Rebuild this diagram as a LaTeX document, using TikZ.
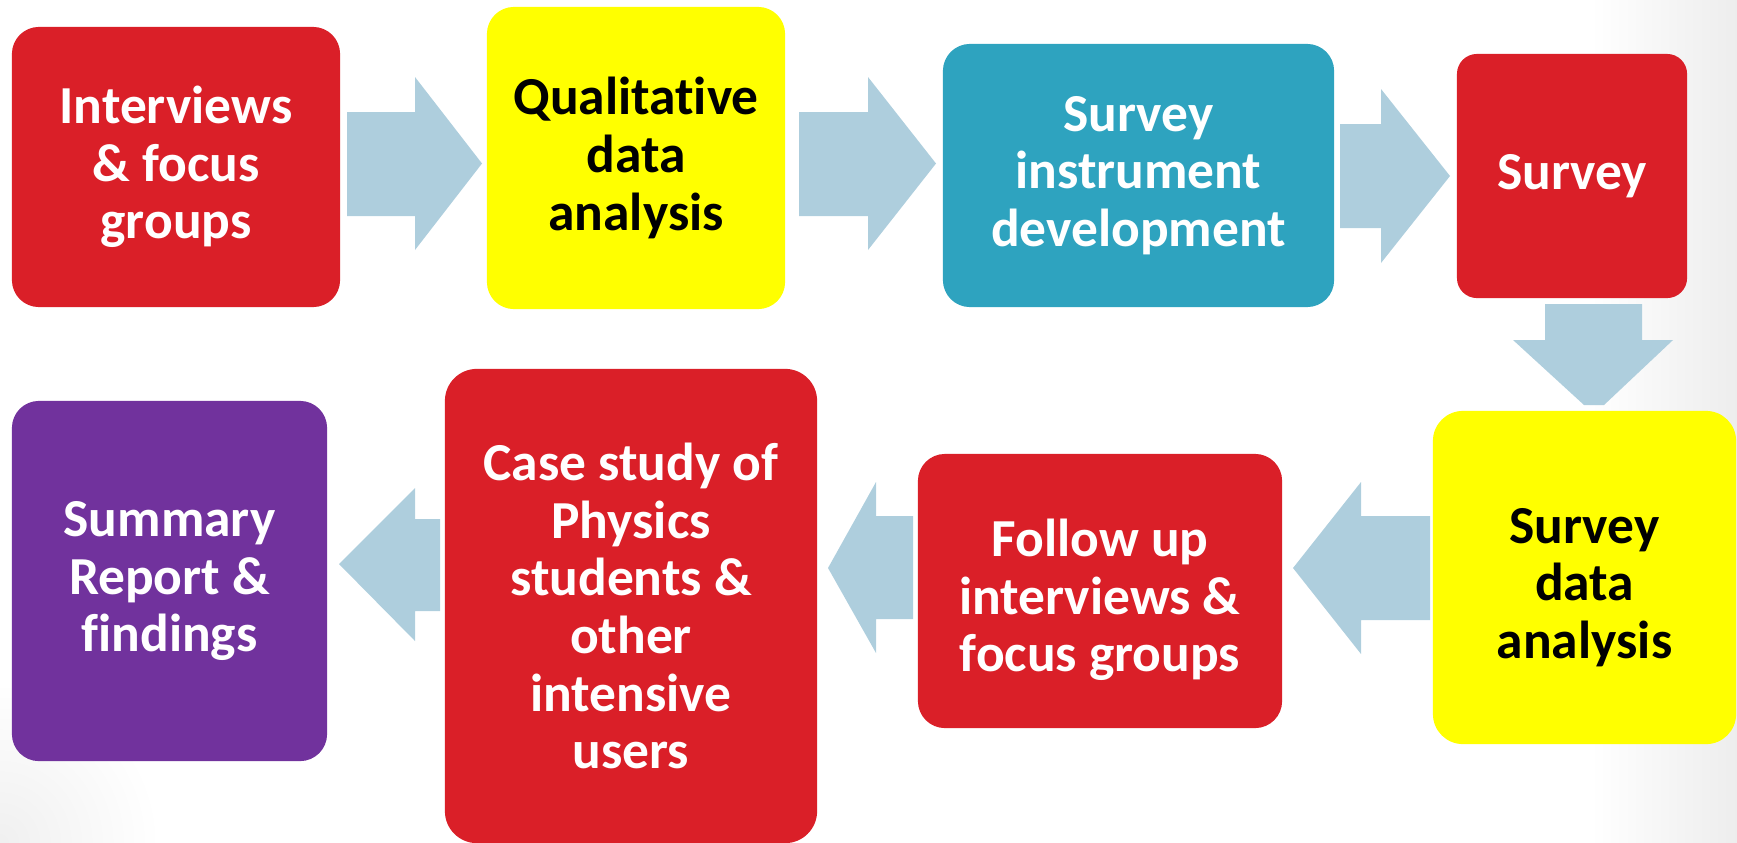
\documentclass[tikz,border=0pt]{standalone}
\usepackage{fontspec}
\setmainfont{Carlito}[Ligatures=NoCommon]
\definecolor{cred}{RGB}{218,31,40}
\definecolor{cyellow}{RGB}{255,255,0}
\definecolor{cteal}{RGB}{46,163,191}
\definecolor{cpurple}{RGB}{113,50,157}
\definecolor{carrow}{RGB}{174,206,221}
\begin{document}
\begin{tikzpicture}[x=0.01cm,y=-0.01cm,
  lbl/.style={inner sep=0pt, align=center,
    font=\bfseries\fontsize{15.2}{16.4}\selectfont},
  box/.style={lbl, rounded corners=0.27cm},
  redbox/.style={box, fill=cred, text=white},
  yellowbox/.style={box, fill=cyellow, text=black},
  tealbox/.style={box, fill=cteal, text=white},
  purplebox/.style={box, fill=cpurple, text=white},
  blockarrow/.style={fill=carrow, draw=none}]
\useasboundingbox (0,0) rectangle (1737,842);
\begin{scope}
\clip (0,0) rectangle (1737,842);
\shade[left color=white, right color=black!7] (1590,0) rectangle (1737,842);
\shade[inner color=black!6, outer color=white] (0,842) circle (1.6cm);
\end{scope}
% boxes
\node[redbox, minimum width=3.28cm, minimum height=2.80cm] (b1) at (176,167) {Interviews\\\& focus\\groups};
\node[yellowbox, minimum width=2.98cm, minimum height=3.02cm] (b2) at (636,158) {Qualitative\\data\\analysis};
\node[tealbox, minimum width=3.91cm, minimum height=2.63cm] (b3) at (1138.5,175.5) {Survey\\instrument\\development};
\node[redbox, rounded corners=0.2cm, minimum width=2.30cm, minimum height=2.44cm] (b4) at (1572,176) {Survey};
\node[yellowbox, rounded corners=0.3cm, minimum width=3.03cm, minimum height=3.33cm] (b5) at (1584.5,577.5) {};
\node[lbl, text=black] (t5) at ([yshift=-0.1cm]b5.center) {Survey\\data\\analysis};
\node[redbox, minimum width=3.64cm, minimum height=2.74cm] (b6) at (1100,591) {};
\node[lbl, text=white] (t6) at ([yshift=-0.09cm]b6.center) {Follow up\\interviews \&\\focus groups};
\node[redbox, rounded corners=0.32cm, minimum width=3.72cm, minimum height=4.74cm] (b7) at (631,606) {Case study of\\Physics\\students \&\\other\\intensive\\users};
\node[purplebox, minimum width=3.15cm, minimum height=3.60cm] (b8) at (169.5,581) {Summary\\Report \&\\findings};
% block arrows
\fill[blockarrow] (347,112) -- (415,112) -- (415,77) -- (482,163.5) -- (415,250) -- (415,216) -- (347,216) -- cycle;
\fill[blockarrow] (799,112) -- (868,112) -- (868,77) -- (936,163.5) -- (868,250) -- (868,216) -- (799,216) -- cycle;
\fill[blockarrow] (1340,124) -- (1381,124) -- (1381,89) -- (1450,176) -- (1381,263) -- (1381,228) -- (1340,228) -- cycle;
\fill[blockarrow] (1545,304) -- (1642,304) -- (1642,340) -- (1673,340) -- (1604,405) -- (1584,405) -- (1513,340) -- (1545,340) -- cycle;
\fill[blockarrow] (1430,516) -- (1361,516) -- (1361,482) -- (1293,568) -- (1361,654) -- (1361,620) -- (1430,620) -- cycle;
\fill[blockarrow] (913,516) -- (876,516) -- (876,482) -- (828,568) -- (876,653) -- (876,619) -- (913,619) -- cycle;
\fill[blockarrow] (440,519) -- (415,519) -- (415,488) -- (339,564) -- (415,641) -- (415,611) -- (440,611) -- cycle;
\end{tikzpicture}
\end{document}
